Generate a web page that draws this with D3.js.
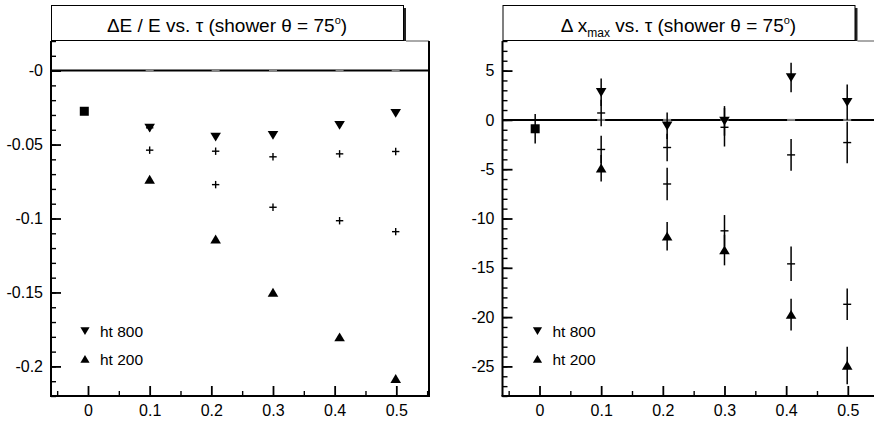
<!DOCTYPE html>
<html>
<head>
<meta charset="utf-8">
<script src="https://cdn.jsdelivr.net/npm/d3@7"></script>
<style>
  body { margin: 0; background: #fff; color: #000; }
  svg text { font-family: "Liberation Sans", Arial, Helvetica, sans-serif; fill: #000; }
</style>
</head>
<body>
<script>

// tau values of the points (x), same for both panels
const tauValues = [0.1, 0.207, 0.3, 0.408, 0.499];

// left panel: dE / E
const dE_ht800 = [-0.0387, -0.0448, -0.0437, -0.0369, -0.0288];
const dE_ht200 = [-0.0736, -0.114, -0.150, -0.1802, -0.2083];
const dE_crossA = [-0.0538, -0.0545, -0.0583, -0.0563, -0.0547];
const dE_crossB = [-0.0387, -0.0771, -0.0924, -0.1015, -0.1089];
const dE_reference = [{x: -0.006, y: -0.0275}];

// right panel: d xmax, with errors
const dX_ht800 = [2.8, -0.6, -0.1, 4.3, 1.8];
const dX_ht800_err = [1.4, 1.35, 1.5, 1.5, 1.8];
const dX_ht200 = [-4.9, -11.8, -13.2, -19.75, -24.9];
const dX_ht200_err = [1.35, 1.45, 1.55, 1.6, 1.9];
const dX_crossA = [0.7, -2.8, -0.75, -3.55, -2.3];
const dX_crossA_err = [1.35, 1.4, 1.95, 1.6, 2.1];
const dX_crossB = [-3.0, -6.5, -11.25, -14.6, -18.7];
const dX_crossB_err = [1.4, 1.65, 1.6, 1.75, 1.6];
const dX_reference = [{x: -0.007, y: -0.9, e: 1.5}];

// axis ticks
const xTicks = [0, 0.1, 0.2, 0.3, 0.4, 0.5];
const xTickLabels = ["0", "0.1", "0.2", "0.3", "0.4", "0.5"];
const leftYTicks = [0, -0.05, -0.1, -0.15, -0.2];
const leftYTickLabels = ["-0", "-0.05", "-0.1", "-0.15", "-0.2"];
const rightYTicks = [5, 0, -5, -10, -15, -20, -25];
const rightYTickLabels = ["5", "0", "-5", "-10", "-15", "-20", "-25"];
const legendLabels = ["ht 800", "ht 200"];

const w = 874;
const h = 422;

const svg = d3.select("body")
  .append("svg")
  .attr("width", w)
  .attr("height", h);

const triDown = "M-5.3,-4.2L5.3,-4.2L0,4.6Z";
const triUp = "M-5.3,4.2L5.3,4.2L0,-4.6Z";
const legDown = "M-4.6,-3.7L4.6,-3.7L0,3.9Z";
const legUp = "M-4.6,3.7L4.6,3.7L0,-3.9Z";

function drawPanel(cfg) {
  const x = d3.scaleLinear().domain([-0.06, 0.553]).range([cfg.left, cfg.left + 378]);
  const y = d3.scaleLinear().domain(cfg.yDomain).range([396, 41]);
  const g = svg.append("g");

  // title box with shadow
  g.append("rect")
    .attr("x", cfg.left + 3).attr("y", 8)
    .attr("width", 352).attr("height", 33)
    .attr("fill", "#222");
  g.append("rect")
    .attr("x", cfg.left + 0.5).attr("y", 5.5)
    .attr("width", 352).attr("height", 35)
    .attr("fill", "#fff").attr("stroke", "#000").attr("stroke-width", 1);
  cfg.title(g.append("text")
    .attr("x", cfg.left + 176)
    .attr("y", 32)
    .attr("text-anchor", "middle")
    .style("font-size", "19px"));

  // frame
  g.append("line")
    .attr("x1", cfg.left + 355).attr("x2", cfg.left + 378)
    .attr("y1", 41).attr("y2", 41)
    .attr("stroke", "#555").attr("stroke-width", 1);
  g.append("line")
    .attr("x1", cfg.left + 378).attr("x2", cfg.left + 378)
    .attr("y1", 41).attr("y2", 396)
    .attr("stroke", "#000").attr("stroke-width", 2);

  // y axis, ticks pointing inside
  const yMinor = [];
  for (let i = Math.ceil(cfg.yDomain[0] / cfg.yMinorStep - 1e-6); i * cfg.yMinorStep <= cfg.yDomain[1] + 1e-9; i++) {
    yMinor.push(i * cfg.yMinorStep);
  }
  g.append("g")
    .attr("transform", "translate(" + cfg.left + ",0)")
    .call(d3.axisLeft(y).tickValues(yMinor).tickSize(-5).tickFormat(""))
    .call(a => a.select(".domain").remove())
    .selectAll("line").attr("stroke", "#000").attr("stroke-width", 1.4);
  const yAxis = g.append("g")
    .attr("transform", "translate(" + cfg.left + ",0)")
    .call(d3.axisLeft(y).tickValues(cfg.yTicks).tickSize(-10).tickPadding(8)
      .tickFormat((d, i) => cfg.yLabels[i]));
  yAxis.select(".domain").attr("stroke", "#000").attr("stroke-width", 2).attr("d", "M0,41V396");
  yAxis.selectAll("line").attr("stroke", "#000").attr("stroke-width", 1.8);
  yAxis.selectAll("text").style("font-size", "16px").attr("font-family", null);

  // x axis, ticks pointing up
  const xMinor = [];
  for (let i = -1; i <= 11; i += 2) xMinor.push(i * 0.05);
  g.append("g")
    .attr("transform", "translate(0,396)")
    .call(d3.axisBottom(x).tickValues(xMinor).tickSize(-5).tickFormat(""))
    .call(a => a.select(".domain").remove())
    .selectAll("line").attr("stroke", "#000").attr("stroke-width", 1.4);
  const xAxis = g.append("g")
    .attr("transform", "translate(0,396)")
    .call(d3.axisBottom(x).tickValues(xTicks).tickSize(-10).tickPadding(9)
      .tickFormat((d, i) => xTickLabels[i]));
  xAxis.select(".domain").attr("stroke", "#000").attr("stroke-width", 2)
    .attr("d", "M" + (cfg.left - 1) + ",0H" + (cfg.left + 379));
  xAxis.selectAll("line").attr("stroke", "#000").attr("stroke-width", 1.8);
  xAxis.selectAll("text").style("font-size", "16px").attr("font-family", null);

  // zero line
  g.append("line")
    .attr("x1", cfg.left).attr("x2", cfg.left + 378)
    .attr("y1", y(0)).attr("y2", y(0))
    .attr("stroke", "#000").attr("stroke-width", 2);
  g.selectAll(".zerobit")
    .data(tauValues)
    .enter()
    .append("line")
    .attr("x1", d => x(d) - 4).attr("x2", d => x(d) + 4)
    .attr("y1", y(0)).attr("y2", y(0))
    .attr("stroke", "#888").attr("stroke-width", 2);

  const plot = g.append("g");

  // error bars
  cfg.series.forEach(function(s) {
    if (!s.err) return;
    plot.selectAll(null)
      .data(s.values)
      .enter()
      .append("line")
      .attr("x1", (d, i) => x(tauValues[i])).attr("x2", (d, i) => x(tauValues[i]))
      .attr("y1", (d, i) => y(d + s.err[i])).attr("y2", (d, i) => y(d - s.err[i]))
      .attr("stroke", "#000").attr("stroke-width", 1.5);
  });
  cfg.reference.forEach(function(r) {
    if (r.e) {
      plot.append("line")
        .attr("x1", x(r.x)).attr("x2", x(r.x))
        .attr("y1", y(r.y + r.e)).attr("y2", y(r.y - r.e))
        .attr("stroke", "#000").attr("stroke-width", 1.5);
    }
    plot.append("rect")
      .attr("x", x(r.x) - 4.5).attr("y", y(r.y) - 4.5)
      .attr("width", 9).attr("height", 9)
      .attr("fill", "#000");
  });

  // markers
  cfg.series.forEach(function(s) {
    const pts = plot.selectAll(null)
      .data(s.values)
      .enter();
    if (s.type == "cross") {
      const half = s.err ? 4 : 3.7;
      pts.append("line")
        .attr("x1", (d, i) => x(tauValues[i]) - half).attr("x2", (d, i) => x(tauValues[i]) + half)
        .attr("y1", d => y(d)).attr("y2", d => y(d))
        .attr("stroke", "#000").attr("stroke-width", 1.4);
      if (!s.err) {
        pts.append("line")
          .attr("x1", (d, i) => x(tauValues[i])).attr("x2", (d, i) => x(tauValues[i]))
          .attr("y1", d => y(d) - 3.7).attr("y2", d => y(d) + 3.7)
          .attr("stroke", "#000").attr("stroke-width", 1.4);
      }
    } else {
      pts.append("path")
        .attr("d", s.type == "down" ? triDown : triUp)
        .attr("transform", (d, i) => "translate(" + x(tauValues[i]) + "," + y(d) + ")")
        .attr("fill", "#000");
    }
  });

  // legend
  const legend = g.append("g");
  [legDown, legUp].forEach(function(p, i) {
    legend.append("path")
      .attr("d", p)
      .attr("transform", "translate(" + (cfg.left + cfg.legendDx) + "," + (331 + i * 28) + ")")
      .attr("fill", "#000");
    legend.append("text")
      .attr("x", cfg.left + cfg.legendDx + 15)
      .attr("y", 337 + i * 28)
      .style("font-size", "15.5px")
      .text(legendLabels[i]);
  });
}

drawPanel({
  left: 51,
  yDomain: [-0.22, 0.02],
  yMinorStep: 0.01,
  yTicks: leftYTicks,
  yLabels: leftYTickLabels,
  legendDx: 34,
  title: function(t) {
    t.append("tspan").text("\u0394E / E vs. \u03c4 (shower \u03b8 = 75");
    t.append("tspan").attr("dy", -8).style("font-size", "11px").text("o");
    t.append("tspan").attr("dy", 8).text(")");
  },
  reference: dE_reference,
  series: [
    {values: dE_crossA, type: "cross"},
    {values: dE_crossB, type: "cross"},
    {values: dE_ht800, type: "down"},
    {values: dE_ht200, type: "up"}
  ]
});

drawPanel({
  left: 502.5,
  yDomain: [-28, 8],
  yMinorStep: 1,
  yTicks: rightYTicks,
  yLabels: rightYTickLabels,
  legendDx: 35,
  title: function(t) {
    t.append("tspan").text("\u0394 x");
    t.append("tspan").attr("dy", 5).style("font-size", "12px").text("max");
    t.append("tspan").attr("dy", -5).text(" vs. \u03c4 (shower \u03b8 = 75");
    t.append("tspan").attr("dy", -8).style("font-size", "11px").text("o");
    t.append("tspan").attr("dy", 8).text(")");
  },
  reference: dX_reference,
  series: [
    {values: dX_crossA, err: dX_crossA_err, type: "cross"},
    {values: dX_crossB, err: dX_crossB_err, type: "cross"},
    {values: dX_ht800, err: dX_ht800_err, type: "down"},
    {values: dX_ht200, err: dX_ht200_err, type: "up"}
  ]
});

</script>
</body>
</html>
